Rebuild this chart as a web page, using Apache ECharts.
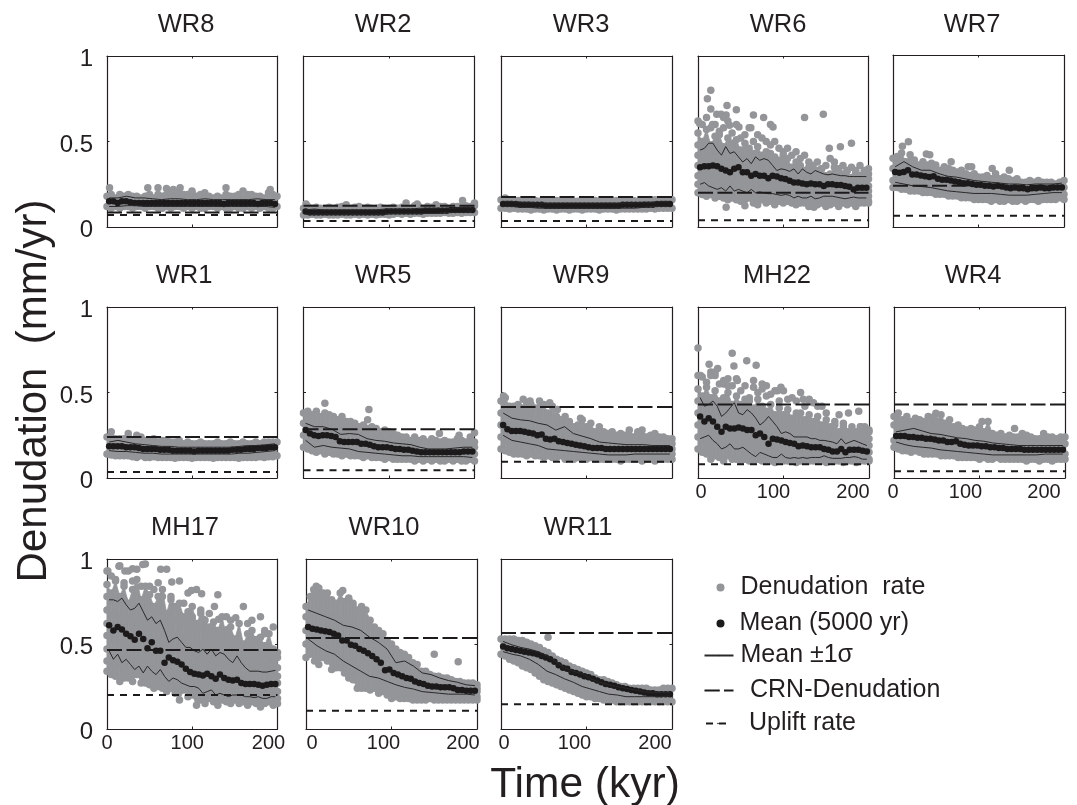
<!DOCTYPE html>
<html><head><meta charset="utf-8">
<style>html,body{margin:0;padding:0;background:#fff}#c{width:1077px;height:805px}</style>
<script src="https://cdn.jsdelivr.net/npm/echarts@6/dist/echarts.min.js"></script>
</head><body><div id="c"></div>
<script>
// All values below: denudation in hundredths of mm/yr. 0 = no point at that place in a row.
const xTicks=[0,100,200], yTicks=[0,0.5,1];
const WR8_crn=8.5,WR8_uplift=7;
const WR8_mean=[15,15,14,15,15,14.5,14,14,14,14,14,14,14,14,14,14,14,14,14,14,14,14,14,14,14,14,14,13.5,14,14,14,14,14,14,14,13.5,14,14,14,13.5];
const WR8_up=[17,17,18,17,17,16.5,16,16.5,16.5,16,16,16.5,16,16,16,16,16,16.5,16,16];
const WR8_lo=[12,12,12.5,12.5,12,12,12,12,12,12,12,12,12,12,12,12,12,12,12,11.5];
const WR8_rate=[[18,19,17,19,18,19,18,18,17,18,19,17,19,18,19,20,19,20,19,19,20,18,19,20,18,17,18,17,19,18,18,19,17,19,19,18,18,17,20,19,18],[12,11,12,11,12,12,11,12,12,11,12,12,11,11,12,11,12,12,11,12,11,12,11,11,12,12,11,12,11,11,12,11,11,12,11,12,11,12,11,11,12]];
const WR8_out=[[3,.23],[60,.23],[48,.23],[70,.225],[78,.22],[86,.23],[140,.23],[192,.22],[160,.21],[100,.21]];
const WR2_crn=12.5,WR2_uplift=3.5;
const WR2_mean=[9,8.5,8.5,8.5,8.5,8.5,8.5,8.5,8.5,8.5,8.5,8.5,8.5,8.5,8.5,8.5,8.5,8.5,8.5,9,9,9,9,9,9,9,9,9,9.5,9.5,9.5,9.5,9.5,9.5,10,10,10,10,10,10];
const WR2_up=[10,10.5,10,10,10,10,10,10,10,10.5,10.5,10.5,10.5,11,11,11,11,11,11.5,11.5];
const WR2_lo=[7.5,7.5,7.5,7.5,7.5,7.5,7.5,7.5,7.5,7.5,8,8,8,8,8,8,8.5,8.5,8.5,9];
const WR2_rate=[[11,12,11,11.5,11,11,11.5,11,11.5,12,11,11,11.5,12,11,11.5,11,11,11.5,11,11,11.5,11,11.5,11,11,12.5,12,11,12,11.5,12,12,12,11,12,12,12,12.5,12,12.5],[7,7,7.5,7,7,7.5,7,7,7,7.5,7,7,7.5,7,7.5,7,7.5,7,7.5,7.5,7,7.5,8,7.5,8,7.5,8,8,7.5,8,8,8,8,8.5,8,8,8.5,8,8.5,8.5,8.5]];
const WR2_out=[[186,.155],[3,.135],[50,.13],[120,.14],[133,.135],[155,.13],[200,.14]];
const WR3_crn=17.5,WR3_uplift=3.5;
const WR3_mean=[13.5,13.5,13.5,13.5,13,13,13,13,13,13,12.5,12.5,12.5,12.5,12.5,12.5,12.5,12.5,12.5,12.5,12.5,12.5,12.5,12.5,12.5,12.5,12.5,12.5,13,13,13,13,13,13,13,13,13.5,13.5,13.5,13.5];
const WR3_up=[15,15,14.5,14.5,14,14,14,14,14,14,14,14,14,14,14,14,14.5,14.5,15,15];
const WR3_lo=[12,12,11.5,11.5,11,11,11,11,11,11,11,11,11,11,11,11,11.5,12,12,12];
const WR3_rate=[[16,17,16,16,15.5,16,15,16,15.5,15,16,15,15,15.5,15,15,15.5,15,15,15.5,15,15,15.5,15,15,15.5,15,15.5,15,15.5,15,15.5,15,16,15.5,15.5,16,15.5,16,16,16],[11,11,10.5,11,10.5,10.5,10.5,10,10.5,10.5,10,10.5,10.5,10,10.5,10.5,10,10.5,10.5,10,10.5,10.5,10.5,10,10.5,10.5,10.5,10,10.5,10.5,10.5,10.5,10.5,10.5,10.5,11,10.5,11,11,11,11]];
const WR3_out=[];
const WR6_crn=20,WR6_uplift=4;
const WR6_mean=[35,35.5,35.5,36,35.5,34,33,32,34,35,32,32,30,31,30,30,28.5,30,29.5,28.5,28,27,26,26,25.5,25,25.5,25,25,24,25,25,24.5,24.5,24,23.5,22,23,23,23];
const WR6_up=[45,46,49,49,45,42,47,43,44,41,38,40,37,41,39,40,39,36,33,34,33.5,32.5,34,31,34,32,31,33,32,31,30.5,31,30.5,30,30,29.5,29.5,29.5,29.5,29.5];
const WR6_lo=[25,26,24,23,22,23,21,24,21,22,21,20,22,20,20.5,20,19.5,19.5,19,18.5,19,18.5,17,18,17,17,18,16.5,17,18,18,18,17.5,17,16.5,17,17.5,17,17,17];
const WR6_rate=[[62,60,64,58,60,56,58,62,55,60,52,54,58,50,54,52,50,48,50,46,44,46,42,44,40,42,38,36,38,34,36,40,38,34,36,33,35,32,36,33,34],[55,50,57,48,53,54,47,52,49,51,45,49,46,43,47,42,44,43,41,39,42,40,35,38,36,33,35,32,33,34,30,31,35,30,31,33,29,33,30,32,31],[48,46,47,48,45,46,44,46,42,44,42,41,43,40,40,38,38,37,36,35,36,34,31,33,30,31,29,30,28,29,30,28,29,27,29,28,27,28,27,29,28],[42,40,41,39,40,38,39,37,38,35,36,35,36,34,33,33,31,32,30,30,29,29,28,27,28,26,27,26,26,25,26,25,25,26,24,25,24,23,24,25,24],[36,34,34,33,35,33,32,33,31,32,30,30,29,30,29,28,28,27,27,26,25,25,24,24,23,24,23,22,23,22,22,23,21,22,22,21,21,20,21,21,21],[30,29,30,28,28,29,27,27,26,26,25,25,26,24,24,23,23,23,22,22,21,21,21,20,20,19,20,19,19,19,20,19,18,19,18,19,18,18,18,18,18],[25,24,24,23,24,22,22,23,21,21,20,20,19,20,19,19,18,18,19,17,18,17,18,16,17,16,16,16,15,16,15,16,15,15,16,15,15,15,15,15,15],[20,19,18,19,17,18,17,16,17,16,15,16,17,14,15,16,14,15,13,15,14,15,14,13,14,14,12,14,13,14,12,13,14,12,14,13,14,12,14,14,14]];
const WR6_out=[[15,.8],[11,.75],[15,.69],[34,.71],[45,.685],[65,.655],[77,.64],[85,.6],[88,.585],[62,.58],[125,.64],[147,.66],[2,.605],[22,.66],[33,.655],[17,.6],[37,.595],[48,.585],[180,.49],[167,.47],[154,.46],[33,.115],[55,.125],[136,.115],[70,.13],[27,.66],[30,.64]];
const WR7_crn=24,WR7_uplift=6.5;
const WR7_mean=[32,31.5,32,33,30.5,30.5,30,29.5,29,29.5,28,27.5,27.5,27,26.5,26,25.5,25.5,25,24.5,24.5,24,24,23.5,24,23.5,23,22.5,23,22.5,22.5,22,22.5,22.5,23,22.5,22.5,23,23,23];
const WR7_up=[35,38,35,33,33,31,29.5,29,28,27,26.5,26,25.5,25,25,24.5,25,25,25,25.5];
const WR7_lo=[26,25,24,23.5,23,22,21,20.5,20,19.5,19.5,19.5,19,18.5,18.5,18.5,19,19.5,20,20];
const WR7_rate=[[40,41,43,38,42,39,36,38,36,37,36,33,35,34,33,32,33,31,30,31,29,29,30,28,31,28,29,28,27,28,26,26,27,26,27,26,26,26,25,26,27],[34,33,34,33,32,32,31,30,30,29,28,28,27,27,26,26,25,25,24,25,24,24,23,23,23,23,22,23,22,22,22,22,22,22,22,22,22,23,22,23,23],[27,27,26,26,25,25,24,24,23,23,23,22,22,21,21,20,20,20,19,19,19,18,19,18,18,18,18,18,18,18,18,18,18,18,18,19,18,19,19,19,19],[23,23,22,22,21,21,21,20,20,20,19,19,19,18,18,18,17,17,17,16,16,16,16,15,16,15,15,16,15,15,16,15,16,16,15,16,16,16,16,17,16]];
const WR7_out=[[11,.47],[18,.495],[39,.425],[43,.42],[68,.38],[116,.34],[136,.33],[88,.35],[92,.35]];
const WR1_crn=24,WR1_uplift=3.5;
const WR1_mean=[18.5,18.5,18.5,18.5,18,18,18,17.5,17,17,17,17,16.5,16.5,16.5,16,16,16,16,16,15.5,16,16,16,16,16,16,16,16,16.5,16.5,16.5,17,17,17,17.5,17.5,17.5,18,18];
const WR1_up=[21,22,21,20,19.5,19,18.5,18.5,18,18,18,18,18,18,18,18.5,19,19,19.5,20];
const WR1_lo=[16,15.5,15.5,15,14.5,14.5,14,14,14,14,14,14,14,14,14,14.5,14.5,15,15.5,16];
const WR1_rate=[[24,24,23,23,23,24,22,24,24,22,22,23,21,22,22,21,21,22,20,21,20,20,21,20,20,20,21,20,20,21,20,20,21,20,20,21,20,21,21,21,21],[14,13.5,13,13,13,13,12.5,12,13,12,12,12.5,12,12,12,12,11.5,12,12,12,11.5,12,12,12,12,11.5,12,12,12,12,12,11.5,12,12,12,12,12.5,12,12.5,12.5,13]];
const WR1_out=[[5,.27],[25,.26],[35,.25]];
const WR5_crn=28.5,WR5_uplift=4.5;
const WR5_mean=[28,26,25,24.5,25,25,24.5,24,21.5,21,21,21,21,20,20,19.5,18.5,18,18,18,17.5,17,17,16.5,16.5,16,15.5,15,15,15,15,15,15,15,15,15,15,15.5,15.5,15.5];
const WR5_up=[32,30,30,28.5,25.5,26,25.5,23,22,21.5,20.5,20,19.5,18,17,17,17,17.5,18,18];
const WR5_lo=[22,18,19,18,17.5,17,15.5,15,14.5,14,13.5,13,13,12.5,12.5,12.5,12.5,12.5,12.5,12];
const WR5_rate=[[38,39,37,39,36,38,37,36,34,36,33,33,32,30,31,29,30,29,27,28,27,26,25,24,24,22,24,22,23,21,23,22,21,22,21,21,23,22,21,24,21],[32,32,31,31,30,31,29,29,28,27,27,26,26,25,24,24,23,23,22,21,21,20,20,20,19,19,19,18,18,18,18,18,18,18,18,18,18,18,18,18,18],[25,24,24,23,23,22,22,22,21,21,20,20,19,19,19,18,18,17,17,17,16,16,16,15,15,15,15,15,15,14,14,14,14,14,14,14,14,14,14,14,14],[18,17,16,15,16,14,15,14,14,13,14,13,13,13,12,13,12,12,12,11,12,11,11,11,11,11,10,11,10,11,10,11,10,10,11,10,11,10,10,11,10]];
const WR5_out=[[25,.437],[76.5,.4],[75,.34],[46,.335],[159,.26],[200,.265],[182,.25]];
const WR9_crn=41.5,WR9_uplift=9.5;
const WR9_mean=[31,28.5,27.5,27.5,27.5,27,26.5,26,25,25.5,23,22.5,23,21.5,21,20.5,20,19.5,19,18.5,18,17.5,17.5,17.5,17,17,17,17,17,17,17,17,17,17,17,17,17,17,17,17];
const WR9_up=[38,35,34,33.5,32,31,28,30,26,24.5,23,21,20.5,20,19.5,19.5,19.5,19,19,19];
const WR9_lo=[25,22,21,20,19,17,16.5,16,15.5,15,14.5,14,13.5,13.5,13.5,14,14,14,14,14];
const WR9_rate=[[45,47,42,42,43,41,44,43,41,45,43,38,42,36,34,36,33,30,31,34,30,32,27,30,27,26,27,25,26,25,25,24,27,25,24,25,26,24,24,23,23],[38,38,37,36,38,35,35,36,34,34,33,33,32,31,30,28,27,27,26,26,25,25,24,24,23,23,23,22,22,22,21,21,21,21,20,21,20,20,20,20,20],[31,31,30,29,29,28,28,28,27,27,25,25,24,23,22,22,21,21,20,20,19,19,18,18,18,18,17,17,17,17,17,17,17,17,17,16,17,17,16,17,17],[24,23,23,22,21,21,21,20,20,19,19,18,18,17,16,16,16,15,15,15,14,14,14,14,13,14,13,13,13,13,13,14,13,13,14,13,13,14,13,13,14],[17,16,15,14,14,14,13,14,13,13,12,13,12,12,13,11,12,11,12,11,11,12,11,11,11,11,11,11,10,11,11,11,11,10,11,11,10,11,11,11,11]];
const WR9_out=[[3,.48],[26,.46],[34,.45],[57,.44],[66,.4],[93,.35],[150,.28],[165,.28],[160,.26]];
const MH22_crn=43,MH22_uplift=8;
const MH22_mean=[36,33,35,33,30,27,30,29,29,29.5,29,28,28,25,26,24,20,23,22.5,22,21,20.5,20,18.5,19,18.5,18,18,18,17,16.5,15.5,15.5,17,15,16.5,16.5,16.5,16,15.5];
const MH22_up=[47,42,43,45,42,36,38,41,44,38,37,40,38,35,31,33,36,33,30,26,27,26,24,24,24,24,23,23,22,22,21.5,21,20,23,20,21,22,21,20,19];
const MH22_lo=[23,24,25,22,20,17,18,20,17,17,18,16,14,12.5,15,14,13,12,12,14,12,11.5,12,11.5,12,11.5,12,12,12,13,12,11.5,11.5,11.5,12,12,12.5,12,11,11];
const MH22_rate=[[60,59,56,62,60,55,57,58,54,58,51,54,47,57,50,52,48,49,51,45,51,46,47,45,50,42,46,44,42,42,38,0,33,0,32,0,30,0,30,30,28],[52,48,53,47,51,45,47,50,43,48,43,46,45,41,46,42,39,43,37,41,37,40,35,38,38,34,37,33,36,31,34,30,31,27,30,27,28,27,30,26,27],[45,44,42,43,40,42,41,38,40,37,37,38,36,36,34,36,34,33,34,31,31,32,31,29,29,28,29,27,26,27,26,25,25,24,24,25,23,24,24,23,23],[38,36,37,35,35,34,33,33,32,32,32,30,30,29,30,28,27,27,26,27,25,25,25,24,24,23,22,22,22,21,21,20,21,20,20,19,20,20,19,19,19],[31,30,29,29,27,27,27,26,26,25,25,24,23,24,22,22,22,21,21,20,20,19,19,18,18,18,17,17,16,17,16,16,16,15,16,15,15,16,15,15,15],[24,23,23,21,21,20,20,19,20,19,18,17,18,16,17,16,16,15,15,14,14,14,13,14,13,13,12,13,12,12,12,12,12,11,12,11,12,11,11,12,11],[17,15,14,11,13,12,10,13,11,11,10,11,10,10,11,10,10,10,9,10,10,10,10,9,10,10,10,10,10,10,9,10,10,10,9,10,10,9,10,10,10]];
const MH22_out=[[0,.76],[40,.73],[57,.685],[68,.66],[13,.665],[23,.64],[42,.655],[3,.6],[15,.6],[20,.62],[30,.55],[35,.54],[46,.57],[65,.53],[75,.55],[80,.54],[93,.51],[97,.53],[123,.46],[130,.45],[165,.37],[176,.38],[188,.39]];
const WR4_crn=43,WR4_uplift=4;
const WR4_mean=[24.5,24.5,24.5,24,24,23.5,23.5,23,23,22.5,22,22,21,21,21.5,20,19.5,19,19,19,18.5,18.5,18,18,17.5,17.5,17,17,17,17,16.5,16.5,16.5,16.5,16.5,16.5,16.5,16.5,16.5,16.5];
const WR4_up=[27,28,29,27.5,26,25.5,24.5,23.5,23,22,21.5,20.5,20,19.5,19,19,19,19,19,19];
const WR4_lo=[21,19.5,18.5,18,17.5,16.5,16,15.5,15,14.5,14,13.5,13.5,13.5,13.5,13.5,13.5,14,14,14];
const WR4_rate=[[36,38,34,36,33,35,34,33,36,34,33,37,32,34,30,31,29,28,29,28,30,27,33,26,25,26,24,25,24,24,26,25,24,23,23,26,24,24,23,24,24],[31,31,31,30,30,30,29,29,28,28,27,27,26,26,25,25,24,24,24,23,23,23,22,22,22,22,21,21,21,21,21,21,21,20,21,20,20,20,20,21,20],[22,20,21,20,20,20,19,19,18,18,18,18,17,17,17,16,16,16,15,15,15,15,15,15,15,14,14,14,14,14,14,14,14,14,14,14,14,14,14,14,14],[18,17,16,16,15,16,15,14,14,14,14,13,13,13,13,12,12,12,12,12,11,12,11,11,12,11,11,11,11,11,11,10,11,11,10,11,11,10,11,11,11]];
const WR4_out=[[49,.378],[47,.36],[103,.33],[141,.29]];
const MH17_crn=46.5,MH17_uplift=20;
const MH17_mean=[61,58,60,58.5,56,54.5,52.5,56,53,47.5,51,46,46,39,42,40.5,39.5,38,35.5,33.5,32.5,32,31.5,32.5,31,29.5,32,30,29,28.5,29,27,26.5,26.5,26.5,26,25.5,26,26.5,26.5];
const MH17_up=[76,76,75,77,73,70,71,74,69,64,66,62,64,58,51,53,54,51,48,48,46,45,47,44,47,43,45,44,41,39,43,39,36,34,34,34,33.5,33.5,34,34.5];
const MH17_lo=[46,41,44,39,41,38,35,37,33,37,34,32,35,31,28,30,29,27,26,25,25,24,21,22,23,20,21,20,19,20,20,20,19,19,18.5,19,18,18,19,19];
const MH17_rate=[[93,90,88,96,86,93,87,94,84,97,84,82,86,78,94,76,72,87,74,80,66,82,70,0,68,0,79,0,66,64,0,0,72,62,64,0,66,58,0,60,0],[85,80,87,78,84,74,82,88,76,84,79,72,78,82,68,78,71,74,66,69,72,62,68,64,60,63,58,66,55,60,53,62,50,56,58,52,54,49,56,47,45],[78,76,77,74,76,72,74,72,75,70,71,68,70,66,67,64,64,62,63,60,60,58,60,56,55,56,53,54,52,50,50,48,47,48,46,44,46,44,42,43,42],[70,68,68,66,67,65,66,63,64,62,62,60,60,58,58,56,56,54,54,52,52,50,50,48,48,46,46,44,45,43,43,42,40,40,39,38,39,37,38,37,36],[62,60,61,58,59,57,58,55,56,54,53,52,52,50,49,49,47,47,45,45,44,43,42,42,40,40,39,38,38,37,37,35,35,34,33,33,32,33,32,32,31],[55,53,52,51,52,49,50,47,47,46,45,45,43,42,42,41,40,39,38,38,36,36,35,34,34,33,32,32,30,31,30,29,29,28,28,27,28,27,27,26,27],[47,46,45,44,44,41,42,40,39,39,38,36,37,34,35,33,33,31,31,29,30,28,28,27,28,26,25,26,24,25,24,24,23,24,22,23,22,22,22,22,22],[40,38,37,38,35,34,35,32,33,30,32,29,30,28,27,27,25,26,24,25,22,23,22,21,20,21,21,20,21,19,20,19,19,18,19,18,19,18,17,18,18],[34,32,31,28,30,30,28,33,27,27,26,24,25,24,22,24,21,17,23,19,20,14,17,15,18,16,14,17,16,15,17,15,16,14,16,15,13,15,16,14,15]];
const MH17_out=[[1,.93],[14,.957],[21,.93],[30,.943],[42,.967],[63,.94],[76,.865],[99,.815],[111,.795],[126,.72],[151,.655],[185,.56],[174,.525],[113,.645],[131,.645],[141,.585],[178,.53]];
const WR10_crn=53.5,WR10_uplift=10.8;
const WR10_mean=[60,59,58.5,58,57.5,57,56,55,52,52,49.5,49,47,46,44.5,43,41,39,34.5,35,33,32,31,30,29.5,28,27,26.5,25.5,25,25,24.5,24.5,24.5,24,23,23,22.5,22.5,22.5];
const WR10_up=[70,68,66,64,61,60,58,54,51,47,39,40,37,33,32,30,28.5,27.5,26,25.5];
const WR10_lo=[53,49,46,44,40,37,34,31,30,28,26,24.5,23.5,22,21.5,21,20.5,20.5,20.5,20];
const WR10_rate=[[72,78,80,83,78,80,76,74,80,75,76,72,70,72,70,64,60,58,56,52,50,47,45,44,42,39,38,34,34,32,31,31,30,30,29,28,28,27,27,27,26],[66,68,70,68,70,66,67,66,64,65,62,60,58,56,54,50,49,46,43,42,40,38,36,35,33,32,31,30,29,29,28,27,27,26,26,26,25,25,25,25,24],[58,60,60,60,58,58,56,56,54,52,50,48,46,44,43,40,38,36,34,33,32,31,29,28,27,26,25,25,25,24,24,24,23,23,23,22,22,22,22,22,22],[50,49,50,48,48,46,45,44,42,40,39,37,35,33,32,30,29,28,26,25,25,24,23,22,22,21,21,20,20,20,20,20,20,20,20,19,19,19,19,19,19],[42,44,40,38,42,40,35,36,36,33,30,29,24,24,24,23,24,21,22,20,18,19,18,18,18,17,17,17,17,18,17,17,17,17,17,17,17,17,17,17,17]];
const WR10_out=[[12,.84],[9,.82],[43,.815],[20,.8],[150,.44],[178,.395],[88,.5],[50,.77],[55,.74]];
const WR11_crn=56.5,WR11_uplift=14.5;
const WR11_mean=[48.5,47.5,47,46.5,46,45.5,45,44.5,44,43,42,41,39.5,37.5,36,35.5,33.5,33,32,31,30.5,29.5,28.5,27.5,26.5,26,25.5,24.5,24,23.5,23,22.5,22,21.5,21,21,20.5,20.5,20.5,20.5];
const WR11_up=[51.5,49.5,48,47,45.5,43,39.5,36,34,32.5,29.5,27.5,26,25,24,23,22,21.5,21.5,21.5];
const WR11_lo=[45.5,44,43,41,38,34,32,29.5,27.5,25,23.5,22,20.5,20,19,19,19,19,19,19.5];
const WR11_rate=[[53,53,53,53,52,52,51,50,49,48,46,45,43,41,40,39,37,36,35,34,33,32,30,29,29,28,27,26,25,25,24,24,24,24,24,23,23,23,24,24,24],[44,43,41,40,39,37,36,35,33,31,29,28,27,26,25,24,23,22,21,20,19,19,18,18,17,17,17,16,16,16,16,16,16,16,16,16,16,16,16,16,16]];
const WR11_out=[[55,.54]];

// layout (pixels): frames, title centres, label nudges; b = first row of the solid part of the cloud
const panels=[
 {n:'WR8',l:107,t:56,w:170,h:171,d:WR8_rate,o:WR8_out,m:WR8_mean,u:WR8_up,w2:WR8_lo,c:WR8_crn,r:WR8_uplift,tx:186,ty:23,yl:1,b:0},
 {n:'WR2',l:303.5,t:56,w:171,h:171,d:WR2_rate,o:WR2_out,m:WR2_mean,u:WR2_up,w2:WR2_lo,c:WR2_crn,r:WR2_uplift,tx:383,ty:23,b:0},
 {n:'WR3',l:501,t:56,w:171,h:171,d:WR3_rate,o:WR3_out,m:WR3_mean,u:WR3_up,w2:WR3_lo,c:WR3_crn,r:WR3_uplift,tx:581,ty:23,b:0},
 {n:'WR6',l:698,t:56,w:170.5,h:171,d:WR6_rate,o:WR6_out,m:WR6_mean,u:WR6_up,w2:WR6_lo,c:WR6_crn,r:WR6_uplift,tx:778,ty:23,b:1},
 {n:'WR7',l:893,t:55,w:171,h:172,d:WR7_rate,o:WR7_out,m:WR7_mean,u:WR7_up,w2:WR7_lo,c:WR7_crn,r:WR7_uplift,tx:972,ty:23,b:0},
 {n:'WR1',l:107,t:307,w:170,h:171,d:WR1_rate,o:WR1_out,m:WR1_mean,u:WR1_up,w2:WR1_lo,c:WR1_crn,r:WR1_uplift,tx:184,ty:274,yl:1,b:0},
 {n:'WR5',l:303.5,t:307,w:171,h:171,d:WR5_rate,o:WR5_out,m:WR5_mean,u:WR5_up,w2:WR5_lo,c:WR5_crn,r:WR5_uplift,tx:383,ty:274,b:0},
 {n:'WR9',l:501,t:307,w:171,h:171,d:WR9_rate,o:WR9_out,m:WR9_mean,u:WR9_up,w2:WR9_lo,c:WR9_crn,r:WR9_uplift,tx:581,ty:274,b:0},
 {n:'MH22',l:698,t:307,w:171,h:171,d:MH22_rate,o:MH22_out,m:MH22_mean,u:MH22_up,w2:MH22_lo,c:MH22_crn,r:MH22_uplift,tx:777,ty:274,xl:[3,-10,-16],b:1},
 {n:'WR4',l:894,t:307,w:171,h:171,d:WR4_rate,o:WR4_out,m:WR4_mean,u:WR4_up,w2:WR4_lo,c:WR4_crn,r:WR4_uplift,tx:973,ty:274,xl:[-1,-14,-21],b:0},
 {n:'MH17',l:107,t:559,w:170.5,h:170,d:MH17_rate,o:MH17_out,m:MH17_mean,u:MH17_up,w2:MH17_lo,c:MH17_crn,r:MH17_uplift,tx:185,ty:526,yl:1,xl:[0,-5,-9],b:1},
 {n:'WR10',l:306,t:559,w:171,h:170,d:WR10_rate,o:WR10_out,m:WR10_mean,u:WR10_up,w2:WR10_lo,c:WR10_crn,r:WR10_uplift,tx:384,ty:526,xl:[6,-8,-14],b:0},
 {n:'WR11',l:501,t:559,w:171,h:170,d:WR11_rate,o:WR11_out,m:WR11_mean,u:WR11_up,w2:WR11_lo,c:WR11_crn,r:WR11_uplift,tx:578,ty:526,xl:[3,-12,-17],b:0}
];
const FONT='Liberation Sans', INK='#231f20', GRAY='#939598', DOT='#1c1a1b';
const NAMES={rate:'Denudation  rate',mean:'Mean (5000 yr)',sig:'Mean ±1σ',crn:'CRN-Denudation',up:'Uplift rate'};
const grid=[],xAxis=[],yAxis=[],series=[],title=[];
panels.forEach((p,i)=>{
  grid.push({left:p.l,top:p.t,width:p.w,height:p.h});
  title.push({text:p.n,left:p.tx,top:p.ty-11,padding:0,textAlign:'center',textStyle:{fontFamily:FONT,fontSize:25.5,fontWeight:'normal',color:INK}});
  const line={show:true,onZero:false,lineStyle:{color:INK,width:1.2}};
  const tick={show:true,inside:true,length:2.5,lineStyle:{color:INK,width:1}};
  const rich={};
  if(p.xl) xTicks.forEach((v,k)=>{const dx=p.xl[k];rich['t'+k]={fontFamily:FONT,fontSize:20,color:INK,padding:dx<0?[0,-2*dx,0,0]:[0,0,0,2*dx]};});
  xAxis.push({gridIndex:i,type:'value',min:0,max:200,interval:100,position:'bottom',axisLine:line,axisTick:tick,splitLine:{show:false},
    axisLabel:{show:!!p.xl,margin:4,hideOverlap:false,showMinLabel:true,showMaxLabel:true,formatter:v=>`{t${xTicks.indexOf(v)}|${v}}`,rich}});
  xAxis.push({gridIndex:i,type:'value',min:0,max:200,interval:100,position:'top',axisLine:line,axisTick:tick,splitLine:{show:false},axisLabel:{show:false}});
  yAxis.push({gridIndex:i,type:'value',min:0,max:1,interval:0.5,position:'left',axisLine:line,axisTick:tick,splitLine:{show:false},
    axisLabel:{show:!!p.yl,margin:14,formatter:v=>`{y|${v}}`,rich:{y:{fontFamily:FONT,fontSize:24,color:INK,padding:[7,0,0,0]}}}});
  yAxis.push({gridIndex:i,type:'value',min:0,max:1,interval:0.5,position:'right',axisLine:line,axisTick:tick,splitLine:{show:false},axisLabel:{show:false}});
  const xi=i*2,yi=i*2;
  const rate=[];
  p.d.forEach(row=>row.forEach((v,k)=>{if(v>0) rate.push([200*k/(row.length-1),v/100]);}));
  p.o.forEach(q=>rate.push(q));
  const pts=a=>a.map((v,k)=>[2.5+195*k/(a.length-1),v/100]);
  const base={xAxisIndex:xi,yAxisIndex:yi,animation:false,silent:true};
  series.push({...base,name:NAMES.rate,type:'scatter',data:rate,symbolSize:7.5,clip:false,itemStyle:{color:GRAY,opacity:1}});
  // the solid middle of the cloud, between two of the rows above
  const hi=p.d[p.b], lo=p.d[p.d.length-1], quads=[];
  for(let k=0;k<hi.length-1;k++){const s=200/(hi.length-1);quads.push([s*k,lo[k]/100,hi[k]/100,s*(k+1),lo[k+1]/100,hi[k+1]/100]);}
  series.push({...base,name:NAMES.rate,type:'custom',data:quads,clip:false,encode:{x:[0,3],y:[1,2,4,5]},
    renderItem:(params,api)=>({type:'polygon',shape:{points:[[0,1],[3,4],[3,5],[0,2]].map(([a,b])=>api.coord([api.value(a),api.value(b)]))},style:{fill:GRAY,stroke:GRAY,lineWidth:0.8}})});
  [p.u,p.w2].forEach(a=>series.push({...base,name:NAMES.sig,type:'line',data:pts(a),showSymbol:false,symbol:'none',lineStyle:{color:'#2a2829',width:1},itemStyle:{color:'#2a2829'}}));
  series.push({...base,name:NAMES.crn,type:'line',data:[[0,p.c/100],[200,p.c/100]],symbol:'none',lineStyle:{color:DOT,width:2,type:[15,4.5]},itemStyle:{color:DOT}});
  series.push({...base,name:NAMES.up,type:'line',data:[[0,p.r/100],[200,p.r/100]],symbol:'none',lineStyle:{color:DOT,width:2,type:[7,6]},itemStyle:{color:DOT}});
  series.push({...base,name:NAMES.mean,type:'scatter',data:pts(p.m),symbolSize:6.5,clip:false,itemStyle:{color:DOT,opacity:1}});
});
const lg=(name,left,top,w,h,textPad,icon)=>({show:true,selectedMode:false,orient:'horizontal',padding:0,left,top,itemWidth:w,itemHeight:h,icon,
  data:[{name}],textStyle:{fontFamily:FONT,fontSize:25,color:INK,padding:textPad}});
const legend=[
  lg(NAMES.rate,716.5,575,8,8,[0,0,8,11],'circle'),
  lg(NAMES.mean,716.5,611,8,8,[0,0,2,10]),
  lg(NAMES.sig,703.5,643,29,2,[3,0,0,2]),
  lg(NAMES.crn,703.5,678,29,2,[4,0,0,11.5]),
  lg(NAMES.up,705,711,24,2,[4,0,0,14])
];
const graphic=[
  {type:'text',x:34,y:391,rotation:Math.PI/2,style:{text:'Denudation  (mm/yr)',fontFamily:FONT,fontSize:42,fill:INK,textAlign:'center',textVerticalAlign:'middle'}},
  {type:'text',x:585,y:785,style:{text:'Time (kyr)',fontFamily:FONT,fontSize:42.5,fill:INK,textAlign:'center',textVerticalAlign:'middle'}}
];
const chart=echarts.init(document.getElementById('c'),null,{renderer:'canvas',width:1077,height:805});
chart.setOption({animation:false,backgroundColor:'#fff',textStyle:{fontFamily:FONT},tooltip:{show:false},title,grid,xAxis,yAxis,series,legend,graphic});
</script></body></html>
